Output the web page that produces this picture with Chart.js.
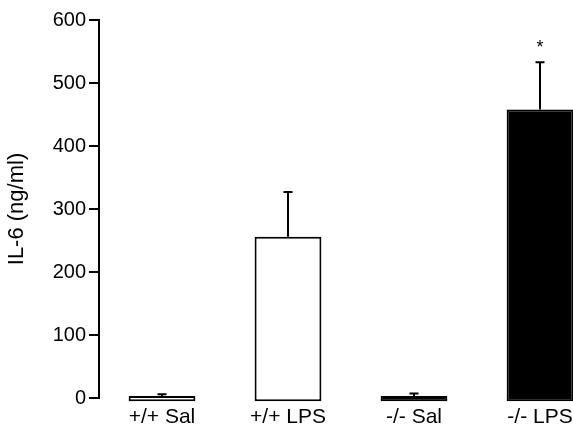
<!DOCTYPE html>
<html lang="en">
<head>
  <meta charset="UTF-8">
  <title>IL-6</title>
  <script src="https://cdn.jsdelivr.net/npm/chart.js"></script>
  <style>
    body { margin: 0; overflow: hidden; background: #fff; }
  </style>
</head>
<body>
  <canvas id="il6Chart" width="604" height="437"></canvas>

<script>
  const groups = ['+/+ Sal', '+/+ LPS', '-/- Sal', '-/- LPS']
  const il6Means = [3, 256, 3, 458]
  const il6Errors = [3, 71, 4, 75]   // upper error bar only
  const marks = ['', '', '', '*']
  const yTicks = [0, 100, 200, 300, 400, 500, 600]

  const fontFamily = '"Liberation Sans", Arial, Helvetica, sans-serif'

  // draws the upward error bars and the significance star
  const errorBars = {
    id: 'errorBars',
    afterDatasetsDraw(chart) {
      const ctx = chart.ctx
      const y = chart.scales.y
      const bars = chart.getDatasetMeta(0).data
      ctx.save()
      ctx.strokeStyle = '#000'
      ctx.fillStyle = '#000'
      ctx.lineWidth = 2
      bars.forEach((bar, i) => {
        const yTop = y.getPixelForValue(il6Means[i] + il6Errors[i])
        const yBar = y.getPixelForValue(il6Means[i])
        ctx.beginPath()
        ctx.moveTo(bar.x, yBar)
        ctx.lineTo(bar.x, yTop)
        ctx.moveTo(bar.x - 4.5, yTop)
        ctx.lineTo(bar.x + 4.5, yTop)
        ctx.stroke()
        if (marks[i]) {
          ctx.font = '18px ' + fontFamily
          ctx.textAlign = 'center'
          ctx.textBaseline = 'middle'
          ctx.fillText(marks[i], bar.x, yTop - 14)
        }
      })
      ctx.restore()
    }
  }

  new Chart(document.getElementById('il6Chart'), {
    type: 'bar',
    data: {
      labels: groups,
      datasets: [{
        data: il6Means,
        backgroundColor: ['#fff', '#fff', '#000', '#000'],
        borderColor: '#000',
        borderWidth: 2,
        borderSkipped: false,
        base: -5,
        clip: false,
        barPercentage: 0.53,
        categoryPercentage: 1
      }]
    },
    options: {
      responsive: false,
      animation: false,
      layout: { padding: { top: 20, right: 1, left: 0, bottom: 0 } },
      plugins: {
        legend: { display: false },
        tooltip: { enabled: false }
      },
      scales: {
        x: {
          grid: { display: false, drawTicks: false },
          border: { display: false },
          ticks: {
            color: '#000',
            padding: 7,
            font: { family: fontFamily, size: 21 }
          },
          afterFit(scale) { scale.height = 39 }
        },
        y: {
          min: 0,
          max: 600,
          afterBuildTicks(scale) {
            scale.ticks = yTicks.map(v => ({ value: v }))
          },
          grid: {
            display: true,
            drawOnChartArea: false,
            drawTicks: true,
            tickLength: 10,
            color: '#000',
            lineWidth: 2
          },
          border: { display: true, color: '#000', width: 2 },
          ticks: {
            color: '#000',
            padding: 3,
            font: { family: fontFamily, size: 20 }
          },
          title: {
            display: true,
            text: 'IL-6 (ng/ml)',
            color: '#000',
            padding: { top: 4, bottom: 0 },
            font: { family: fontFamily, size: 22 }
          },
          afterFit(scale) { scale.width = 99 }
        }
      }
    },
    plugins: [errorBars]
  })
</script>
</body>
</html>
